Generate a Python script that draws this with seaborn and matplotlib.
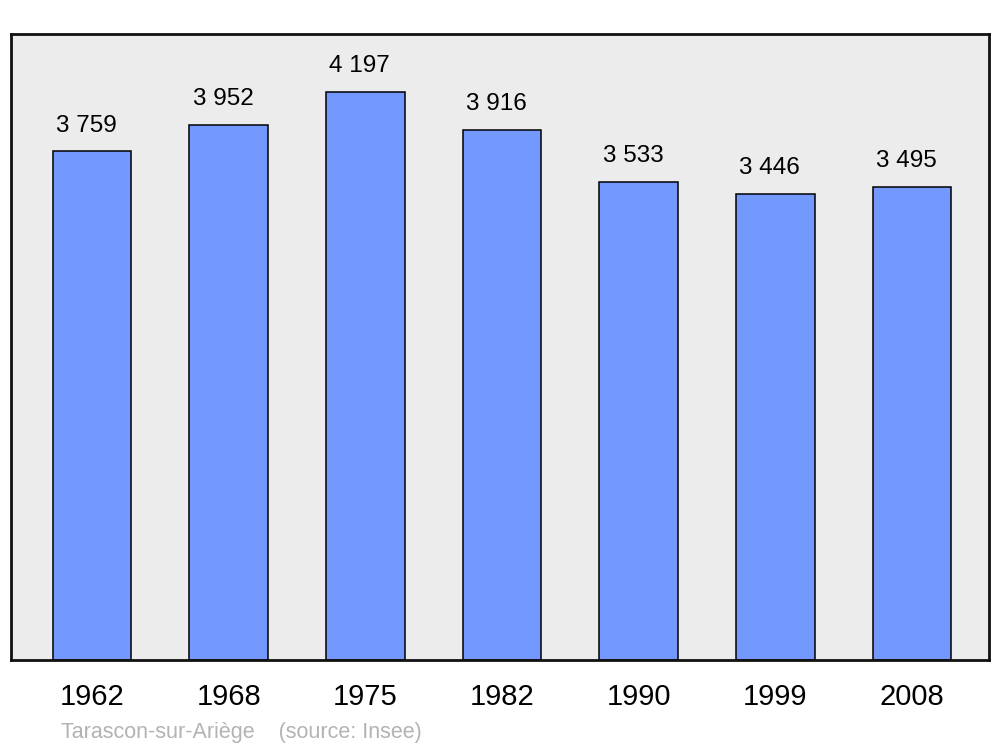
import matplotlib
matplotlib.use('Agg')
import matplotlib.pyplot as plt
import seaborn as sns
import pandas as pd

# Population data
years = ['1962', '1968', '1975', '1982', '1990', '1999', '2008']
population = [3759, 3952, 4197, 3916, 3533, 3446, 3495]
value_labels = ['3 759', '3 952', '4 197', '3 916', '3 533', '3 446', '3 495']
source_text = 'Tarascon-sur-Ariège    (source: Insee)'

df = pd.DataFrame({'year': years, 'population': population})

sns.set_style('white')
plt.rcParams['font.family'] = ['Liberation Sans', 'DejaVu Sans']
plt.rcParams['text.color'] = 'black'
plt.rcParams['xtick.color'] = 'black'

fig = plt.figure(figsize=(10, 7.47), dpi=100)
ax = fig.add_axes([0.011, 0.1165, 0.978, 0.838])
ax.set_facecolor('#ececec')

sns.barplot(data=df, x='year', y='population', color='#7399ff', saturation=1,
            width=0.575, edgecolor='black', linewidth=1.1, ax=ax)

# Value labels above bars
for i, v in enumerate(population):
    ax.annotate(value_labels[i], (i, v), xytext=(-4, 18.5), textcoords='offset points',
                ha='center', va='center', fontsize=17.5, color='black')

ax.set_xlim(-0.593, 6.563)
ax.set_ylim(0, 4626)
ax.set_yticks([])
ax.set_xlabel('')
ax.set_ylabel('')
ax.tick_params(axis='x', length=0, labelsize=21, pad=16.5, labelcolor='black')
for lbl in ax.get_xticklabels():
    lbl.set_x(lbl.get_position()[0])

for s in ax.spines.values():
    s.set_linewidth(2)
    s.set_color('#111111')

fig.text(0.061, 0.0188, source_text, fontsize=15.5, color='#b3b3b3', ha='left', va='center')

fig.savefig('out.png', dpi=100, facecolor='white')
